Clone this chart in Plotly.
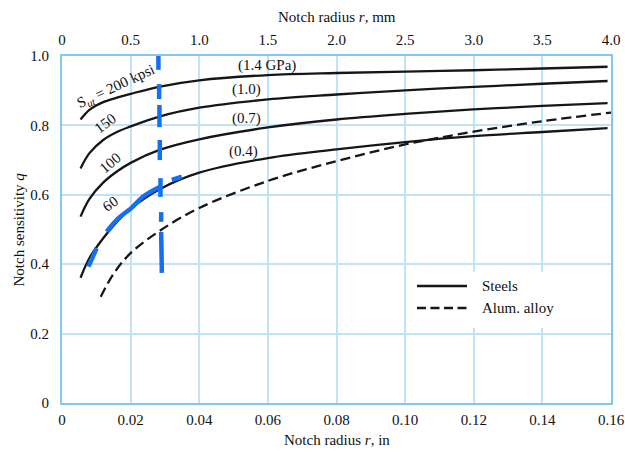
import plotly.graph_objects as go

# ---------------- data ----------------
r_steel = [0.0054, 0.008, 0.012, 0.016, 0.020, 0.0286, 0.040, 0.060, 0.080, 0.100, 0.120, 0.140, 0.159]
q_200 = [0.817, 0.845, 0.867, 0.880, 0.891, 0.912, 0.930, 0.945, 0.951, 0.955, 0.959, 0.964, 0.969]
q_150 = [0.676, 0.720, 0.758, 0.781, 0.797, 0.826, 0.851, 0.875, 0.889, 0.901, 0.911, 0.920, 0.928]
q_100 = [0.537, 0.588, 0.635, 0.667, 0.692, 0.730, 0.760, 0.794, 0.817, 0.833, 0.846, 0.856, 0.864]
q_60 = [0.361, 0.418, 0.475, 0.522, 0.560, 0.617, 0.664, 0.706, 0.731, 0.752, 0.769, 0.781, 0.792]

r_alum = [0.0113, 0.015, 0.020, 0.0286, 0.040, 0.060, 0.080, 0.100, 0.120, 0.140, 0.160]
q_alum = [0.306, 0.372, 0.432, 0.497, 0.562, 0.640, 0.697, 0.745, 0.782, 0.812, 0.837]

# hand-drawn blue marks (segments separated by None)
blue_vert_r = [0.0281, 0.0281, None, 0.0283, 0.0283, None, 0.0284, 0.0284, None,
               0.0285, 0.0285, None, 0.0287, 0.0287, None, 0.0289, 0.0289, None,
               0.0289, 0.0291]
blue_vert_q = [1.014, 0.960, None, 0.919, 0.876, None, 0.859, 0.795, None,
               0.758, 0.700, None, 0.648, 0.594, None, 0.550, 0.522, None,
               0.493, 0.375]
blue_curve_r = [0.0077, 0.0101, None, 0.0130, 0.0164, 0.0201, 0.0237, 0.0286, None, 0.0320, 0.0349]
blue_curve_q = [0.393, 0.446, None, 0.494, 0.532, 0.561, 0.595, 0.623, None, 0.643, 0.652]

# tick labels
ticks_in = [0, 0.02, 0.04, 0.06, 0.08, 0.10, 0.12, 0.14, 0.16]
ticklabels_in = ["0", "0.02", "0.04", "0.06", "0.08", "0.10", "0.12", "0.14", "0.16"]
ticks_mm = [0, 0.5, 1.0, 1.5, 2.0, 2.5, 3.0, 3.5, 4.0]
ticklabels_mm = ["0", "0.5", "1.0", "1.5", "2.0", "2.5", "3.0", "3.5", "4.0"]
ticks_q = [0, 0.2, 0.4, 0.6, 0.8, 1.0]
ticklabels_q = ["0", "0.2", "0.4", "0.6", "0.8", "1.0"]

# curve labels: text, r, q, angle
curve_labels = [
    ("(1.4 GPa)", 0.0597, 0.974, 0),
    ("(1.0)", 0.0539, 0.903, 0),
    ("(0.7)", 0.0538, 0.820, 0),
    ("(0.4)", 0.0530, 0.726, 0),
    ("S<sub><i>ut</i></sub> = 200 kpsi", 0.0157, 0.912, -25),
    ("150", 0.0127, 0.806, -37),
    ("100", 0.0140, 0.691, -40),
    ("60", 0.0140, 0.573, -35),
]

legend_items = [("Steels", "solid"), ("Alum. alloy", "9px,4.5px")]

# ---------------- figure ----------------
FONT = "Liberation Serif"
GRID = "#c0e3f8"
FRAME = "#84c7f2"
BLUE = "#1470f0"
INK = "#161616"

fig = go.Figure()
for q in (q_200, q_150, q_100, q_60):
    fig.add_trace(go.Scatter(x=r_steel, y=q, mode="lines", line=dict(color=INK, width=2.3, shape="spline"),
                             showlegend=False, hoverinfo="skip"))
fig.add_trace(go.Scatter(x=r_alum, y=q_alum, mode="lines",
                         line=dict(color=INK, width=2.3, shape="spline", dash="10px,5px"),
                         showlegend=False, hoverinfo="skip"))
fig.add_trace(go.Scatter(x=blue_vert_r, y=blue_vert_q, mode="lines", line=dict(color=BLUE, width=4.5),
                         showlegend=False, hoverinfo="skip", connectgaps=False))
fig.add_trace(go.Scatter(x=blue_curve_r, y=blue_curve_q, mode="lines",
                         line=dict(color=BLUE, width=4.5, shape="spline"),
                         showlegend=False, hoverinfo="skip", connectgaps=False))
# invisible trace so the top (mm) axis is drawn
fig.add_trace(go.Scatter(x=[ticks_mm[0], ticks_mm[-1]], y=[None, None], xaxis="x2", mode="lines",
                         showlegend=False, hoverinfo="skip"))

annotations = []
for txt, r, q, ang in curve_labels:
    annotations.append(dict(x=r, y=q, xref="x", yref="y", text=txt, showarrow=False, textangle=ang,
                            font=dict(family=FONT, size=15, color="#111")))

# axis titles
annotations += [
    dict(x=0.5, y=1, xref="paper", yref="paper", yshift=39, yanchor="middle", text="Notch radius <i>r</i>, mm",
         showarrow=False, font=dict(family=FONT, size=15, color="#111")),
    dict(x=0.5, y=0, xref="paper", yref="paper", yshift=-37, yanchor="middle", text="Notch radius <i>r</i>, in",
         showarrow=False, font=dict(family=FONT, size=15, color="#111")),
    dict(x=0, y=0.5, xref="paper", yref="paper", xshift=-44, xanchor="center", yanchor="middle", textangle=-90,
         text="Notch sensitivity <i>q</i>", showarrow=False, font=dict(family=FONT, size=15, color="#111")),
]

# manual legend
shapes = [dict(type="rect", xref="paper", yref="paper", x0=0.634, x1=0.984, y0=0.216, y1=0.378,
               fillcolor="white", line=dict(width=0), layer="above")]
leg_y = [0.337, 0.274]
for (name, dash), ly in zip(legend_items, leg_y):
    shapes.append(dict(type="line", xref="paper", yref="paper", x0=0.6466, x1=0.7377, y0=ly, y1=ly,
                       line=dict(color=INK, width=2.5, dash=dash), layer="above"))
    annotations.append(dict(x=0.7614, y=ly, xref="paper", yref="paper", xanchor="left", yanchor="middle",
                            text=name, showarrow=False, font=dict(family=FONT, size=15, color="#111")))

axis_common = dict(showline=True, linecolor=FRAME, linewidth=2, mirror=True, zeroline=False,
                   tickfont=dict(family=FONT, size=15, color="#111"), ticks="outside",
                   tickcolor="rgba(0,0,0,0)")

fig.update_layout(
    width=625, height=452,
    margin=dict(l=62, r=14, t=56, b=49, autoexpand=False),
    paper_bgcolor="white", plot_bgcolor="white",
    showlegend=False,
    xaxis=dict(range=[0, 0.16], tickvals=ticks_in, ticktext=ticklabels_in, showgrid=True,
               gridcolor=GRID, gridwidth=1.5, ticklen=2, **axis_common),
    xaxis2=dict(range=[0, 4.0], tickvals=ticks_mm, ticktext=ticklabels_mm, overlaying="x", side="top",
                showgrid=False, ticklen=3, **axis_common),
    yaxis=dict(range=[0, 1.0], tickvals=ticks_q, ticktext=ticklabels_q, showgrid=True,
               gridcolor=GRID, gridwidth=1.5, ticklen=8, **axis_common),
    annotations=annotations,
    shapes=shapes,
)

fig.write_html("out.html", config={"displayModeBar": False},
               post_script="document.body.style.margin='0px';document.body.style.overflow='hidden';")
